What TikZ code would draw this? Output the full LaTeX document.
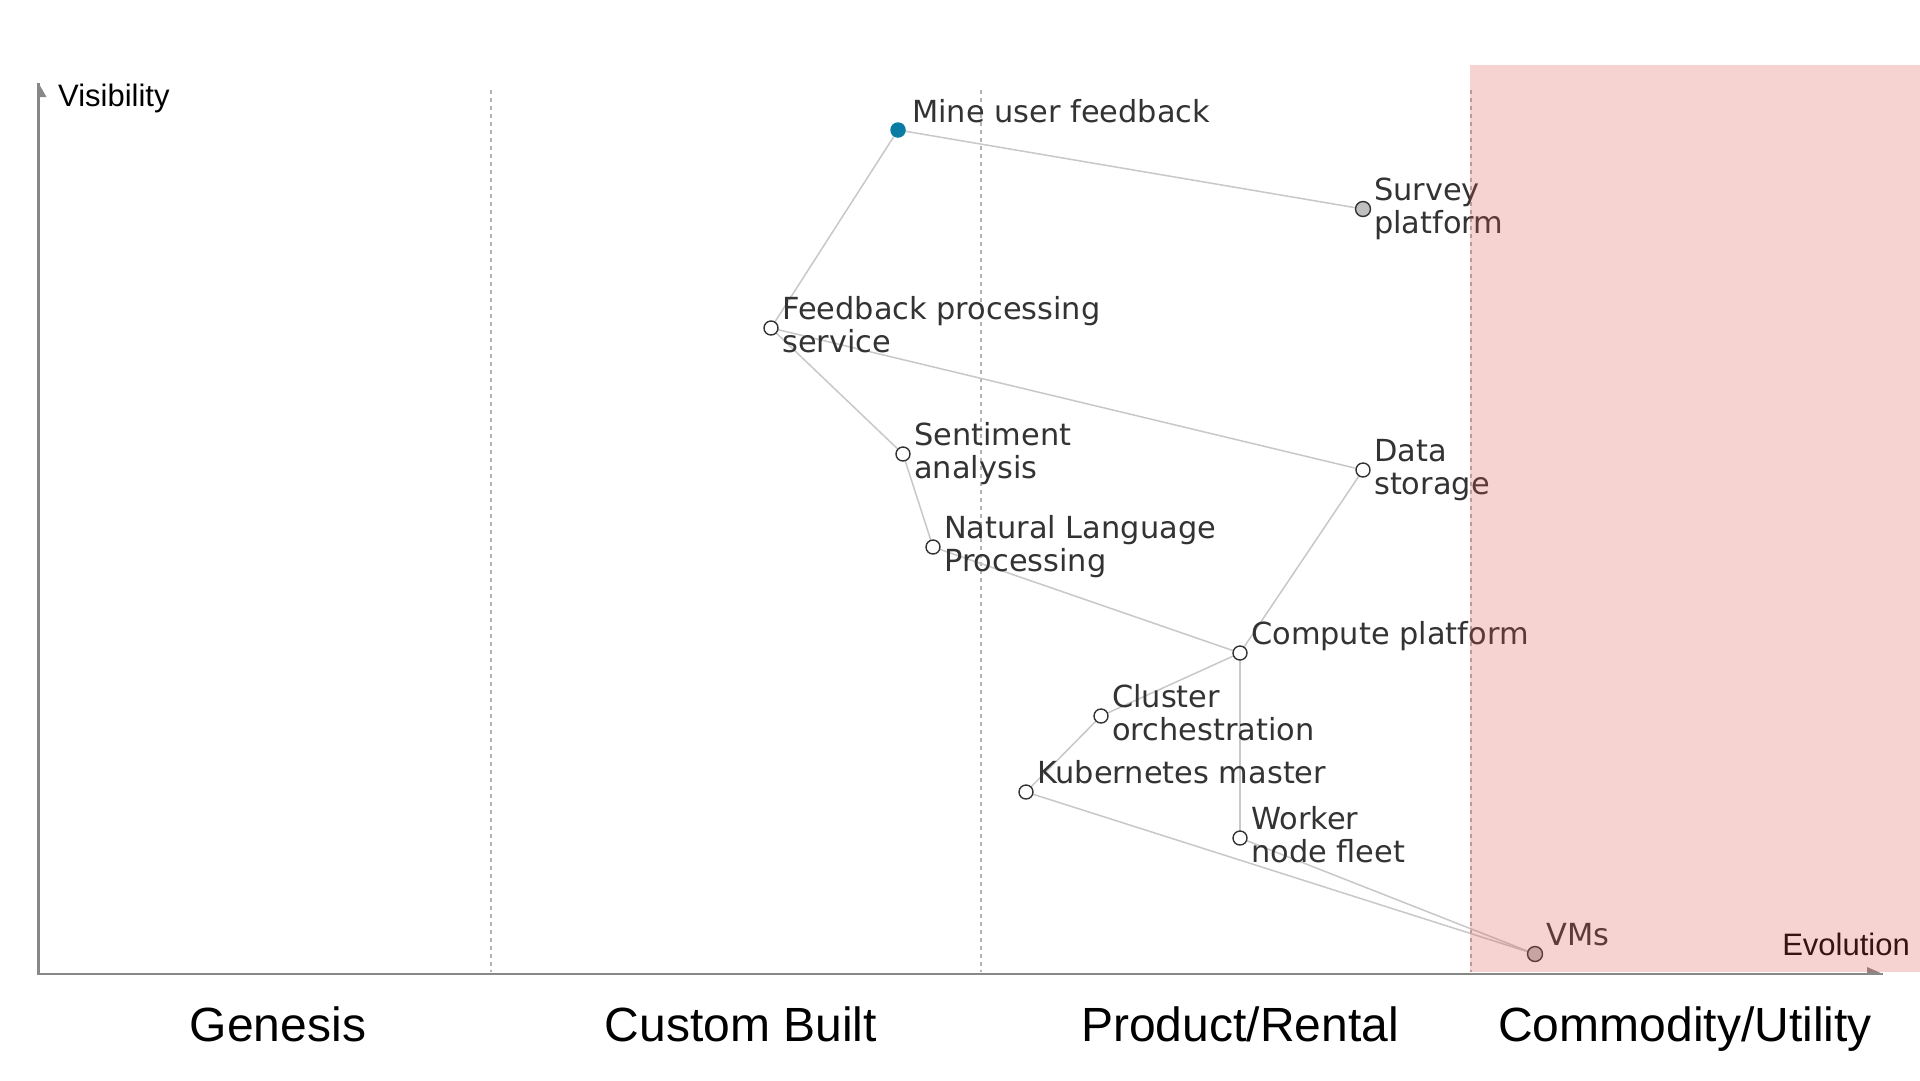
\documentclass[tikz,border=0pt]{standalone}
\usepackage{fontspec}
\setmainfont{DejaVu Sans}
\newfontfamily\hvfont{Liberation Sans}
\usetikzlibrary{backgrounds}
\definecolor{labelgray}{HTML}{333333}
\definecolor{edgegray}{HTML}{C8C8C8}
\definecolor{axisgray}{HTML}{888888}
\definecolor{dashgray}{HTML}{B4B4B4}
\definecolor{mineblue}{HTML}{0A7CA3}
\definecolor{compgray}{HTML}{C0C0C0}
\definecolor{overlayred}{RGB}{220,80,70}
\tikzset{
  dot/.style={circle, draw=labelgray, line width=1.4pt, fill=white, minimum size=14pt, inner sep=0pt},
  userdot/.style={circle, fill=mineblue, minimum size=15.5pt, inner sep=0pt},
  compdot/.style={dot, fill=compgray, minimum size=15pt},
  lbl/.style={anchor=base west, align=left, text=labelgray, inner sep=0pt,
              font=\fontsize{30.4}{33.5}\selectfont},
  edge/.style={draw=edgegray, line width=1.5pt},
  stagedash/.style={draw=dashgray, line width=2.5pt, dash pattern=on 4pt off 4pt},
  axisline/.style={draw=axisgray, line width=2.5pt},
  stagelbl/.style={anchor=base, inner sep=0pt, font=\hvfont\fontsize{48}{48}\selectfont},
  axislbl/.style={inner sep=0pt, font=\hvfont\fontsize{31}{31}\selectfont}
}
\begin{document}
\begin{tikzpicture}[x=1pt, y=-1pt]
\useasboundingbox (0,0) rectangle (1920,1080);

% dots
\node[userdot] (mine) at (898,130) {};
\node[compdot] (survey) at (1363,209) {};
\node[dot] (fps) at (771,328) {};
\node[dot] (sent) at (903,454) {};
\node[dot] (data) at (1363,470) {};
\node[dot] (nlp) at (933,547) {};
\node[dot] (compute) at (1240,653) {};
\node[dot] (cluster) at (1101,716) {};
\node[dot] (kube) at (1026,792) {};
\node[dot] (worker) at (1240,838) {};
\node[compdot] (vms) at (1535,954) {};

% labels (base anchor = baseline of the last line)
\node[lbl] (mine-l) at ([shift={(14,-8)}]mine.center) {Mine user feedback};
\node[lbl] (survey-l) at ([shift={(11,24.5)}]survey.center) {Survey\\platform};
\node[lbl] (fps-l) at ([shift={(11,24.5)}]fps.center) {Feedback processing\\service};
\node[lbl] (sent-l) at ([shift={(11,24.5)}]sent.center) {Sentiment\\analysis};
\node[lbl] (data-l) at ([shift={(11,24.5)}]data.center) {Data\\storage};
\node[lbl] (nlp-l) at ([shift={(11,24.5)}]nlp.center) {Natural Language\\Processing};
\node[lbl] (compute-l) at ([shift={(11,-9)}]compute.center) {Compute platform};
\node[lbl] (cluster-l) at ([shift={(11,24.5)}]cluster.center) {Cluster\\orchestration};
\node[lbl] (kube-l) at ([shift={(11,-9)}]kube.center) {Kubernetes master};
\node[lbl] (worker-l) at ([shift={(11,24.5)}]worker.center) {Worker\\node fleet};
\node[lbl] (vms-l) at ([shift={(11,-9)}]vms.center) {VMs};

% axis labels
\node[axislbl, anchor=base west] (vis) at (58,106) {Visibility};
\node[axislbl, anchor=base east] (evo) at (1910,955) {Evolution};
\node[stagelbl] (genesis) at (278,1041) {Genesis};
\node[stagelbl] (custom) at (741,1041) {Custom Built};
\node[stagelbl] (product) at (1240,1041) {Product/Rental};
\node[stagelbl] (commodity) at (1685,1041) {Commodity/Utility};

\begin{scope}[on background layer]
  \fill[white] (0,0) rectangle (1920,1080);
  % stage separators
  \coordinate (d1t) at (491,90);  \coordinate (d1b) at (491,972);
  \coordinate (d2t) at (981,90);  \coordinate (d2b) at (981,972);
  \coordinate (d3t) at (1471,90); \coordinate (d3b) at (1471,972);
  \draw[stagedash] (d1t) -- (d1b);
  \draw[stagedash] (d2t) -- (d2b);
  \draw[stagedash] (d3t) -- (d3b);
  % axes
  \coordinate (origin) at (38.5,974);
  \coordinate (ytip) at (38.5,83);
  \coordinate (xtip) at (1883,974);
  \draw[axisline] (ytip) -- (origin) -- (xtip);
  \fill[axisgray] (ytip) -- ++(8,14) -- ++(-8,0) -- cycle;
  \fill[axisgray] (xtip) -- ++(-16,-7) -- ++(0,7) -- cycle;
  % dependencies
  \draw[edge] (mine.center) -- (survey.center);
  \draw[edge] (mine.center) -- (fps.center);
  \draw[edge] (fps.center) -- (sent.center);
  \draw[edge] (fps.center) -- (data.center);
  \draw[edge] (sent.center) -- (nlp.center);
  \draw[edge] (nlp.center) -- (compute.center);
  \draw[edge] (data.center) -- (compute.center);
  \draw[edge] (compute.center) -- (cluster.center);
  \draw[edge] (compute.center) -- (worker.center);
  \draw[edge] (cluster.center) -- (kube.center);
  \draw[edge] (kube.center) -- (vms.center);
  \draw[edge] (worker.center) -- (vms.center);
\end{scope}

% commodity overlay
\fill[overlayred, fill opacity=0.25] (1470,65) rectangle (1920,972);
\end{tikzpicture}
\end{document}
